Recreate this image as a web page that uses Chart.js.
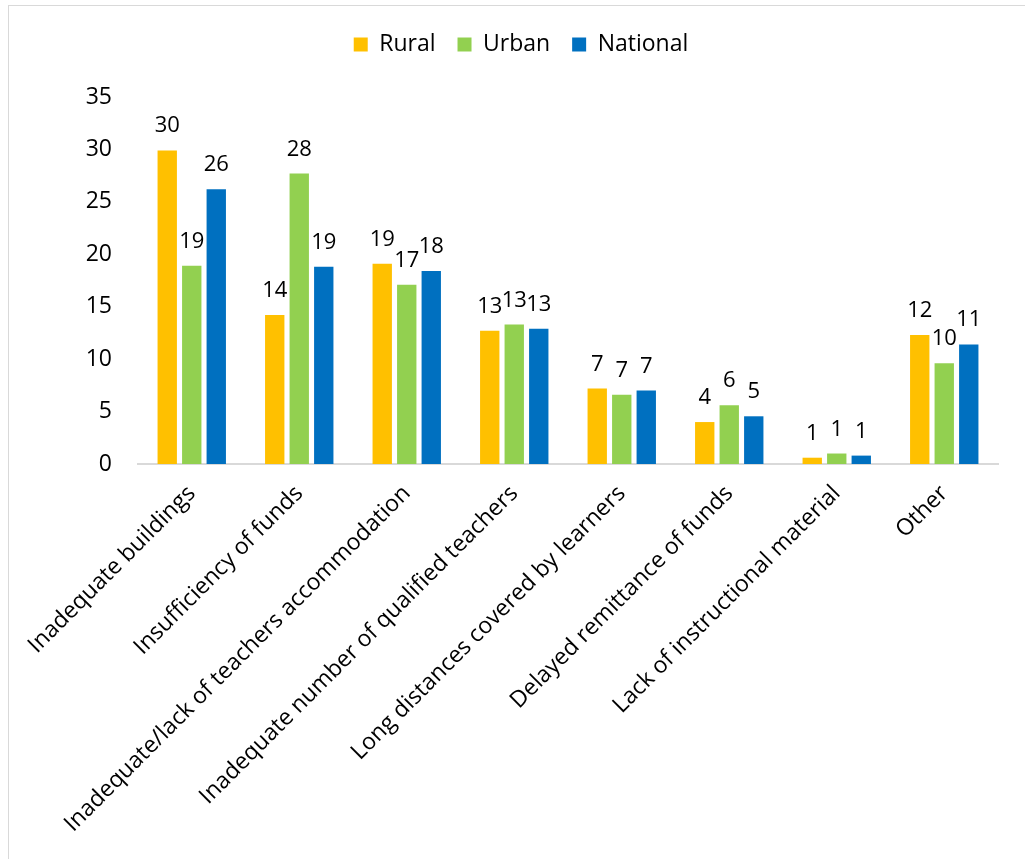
<!DOCTYPE html>
<html>
<head>
<meta charset="utf-8">
<script src="https://cdn.jsdelivr.net/npm/chart.js@4"></script>
<style>
  html, body { margin: 0; padding: 0; background: #fff; }
  #wrap { position: relative; width: 1025px; height: 859px; overflow: hidden; }
  #frame { position: absolute; left: 8px; top: 5px; width: 1100px; height: 900px;
           border-left: 1px solid #d9d9d9; border-top: 1px solid #d9d9d9; }
  canvas { position: absolute; left: 0; top: 0; }
</style>
</head>
<body>
<div id="wrap">
  <div id="frame"></div>
  <canvas id="myChart" width="1025" height="859"></canvas>
</div>
<script>
var categories = [
  'Inadequate buildings',
  'Insufficiency of funds',
  'Inadequate/lack of teachers accommodation',
  'Inadequate number of qualified teachers',
  'Long distances covered by learners',
  'Delayed remittance of funds',
  'Lack of instructional material',
  'Other'
];
var rural    = [29.9, 14.2, 19.1, 12.7, 7.2, 4.0, 0.6, 12.3];
var urban    = [18.9, 27.7, 17.1, 13.3, 6.6, 5.6, 1.0, 9.6];
var national = [26.2, 18.8, 18.4, 12.9, 7.0, 4.55, 0.8, 11.4];
var yTicks   = [0, 5, 10, 15, 20, 25, 30, 35];

var colors = {
  rural: '#FFC000',
  urban: '#92D050',
  national: '#0070C0'
};

var FONT = '"Open Sans", sans-serif';

// rounded value printed above each bar
const barLabels = {
  id: 'barLabels',
  afterDatasetsDraw: (chart) => {
    const {ctx} = chart;
    ctx.save();
    ctx.font = '22px ' + FONT;
    ctx.fillStyle = '#000';
    ctx.textAlign = 'center';
    ctx.textBaseline = 'alphabetic';
    chart.data.datasets.forEach((ds, i) => {
      chart.getDatasetMeta(i).data.forEach((bar, j) => {
        ctx.fillText(Math.round(ds.data[j]), bar.x, bar.y - 18);
      });
    });
    ctx.restore();
  }
};

// extra room under the legend, and legend nudged a bit to the right
const legendSpacer = {
  id: 'legendSpacer',
  beforeInit: (chart) => {
    const legend = chart.legend;
    if (!legend) return;
    const fit = legend.fit;
    legend.fit = function () {
      fit.call(this);
      this.height += 31;
    };
    const draw = legend.draw;
    legend.draw = function () {
      const ctx = this.ctx;
      ctx.save();
      ctx.translate(22, 0);
      draw.call(this);
      ctx.restore();
    };
  }
};

new Chart(document.getElementById('myChart'), {
  type: 'bar',
  data: {
    labels: categories,
    datasets: [
      { label: 'Rural', data: rural, backgroundColor: colors.rural },
      { label: 'Urban', data: urban, backgroundColor: colors.urban },
      { label: 'National', data: national, backgroundColor: colors.national }
    ]
  },
  options: {
    responsive: false,
    animation: false,
    categoryPercentage: 0.684,
    barPercentage: 0.79,
    layout: { padding: { left: 0, right: 27, top: 11, bottom: 0 } },
    plugins: {
      legend: {
        position: 'top',
        labels: {
          boxWidth: 14,
          boxHeight: 14,
          padding: 22,
          color: '#000',
          font: { family: FONT, size: 23 }
        }
      },
      tooltip: { enabled: false }
    },
    scales: {
      x: {
        grid: { display: false, drawTicks: false },
        border: { display: true, color: '#d9d9d9', width: 2 },
        ticks: {
          minRotation: 45,
          maxRotation: 45,
          autoSkip: false,
          padding: 16,
          color: '#000',
          font: { family: FONT, size: 23 }
        },
        afterFit: (scale) => { scale.height = 395; }
      },
      y: {
        min: 0,
        max: 35,
        grid: { display: false, drawTicks: false },
        border: { display: false },
        afterBuildTicks: (scale) => { scale.ticks = yTicks.map(v => ({ value: v })); },
        ticks: {
          padding: 26,
          color: '#000',
          font: { family: FONT, size: 23 }
        },
        afterFit: (scale) => { scale.width = 138; }
      }
    }
  },
  plugins: [barLabels, legendSpacer]
});
</script>
</body>
</html>
